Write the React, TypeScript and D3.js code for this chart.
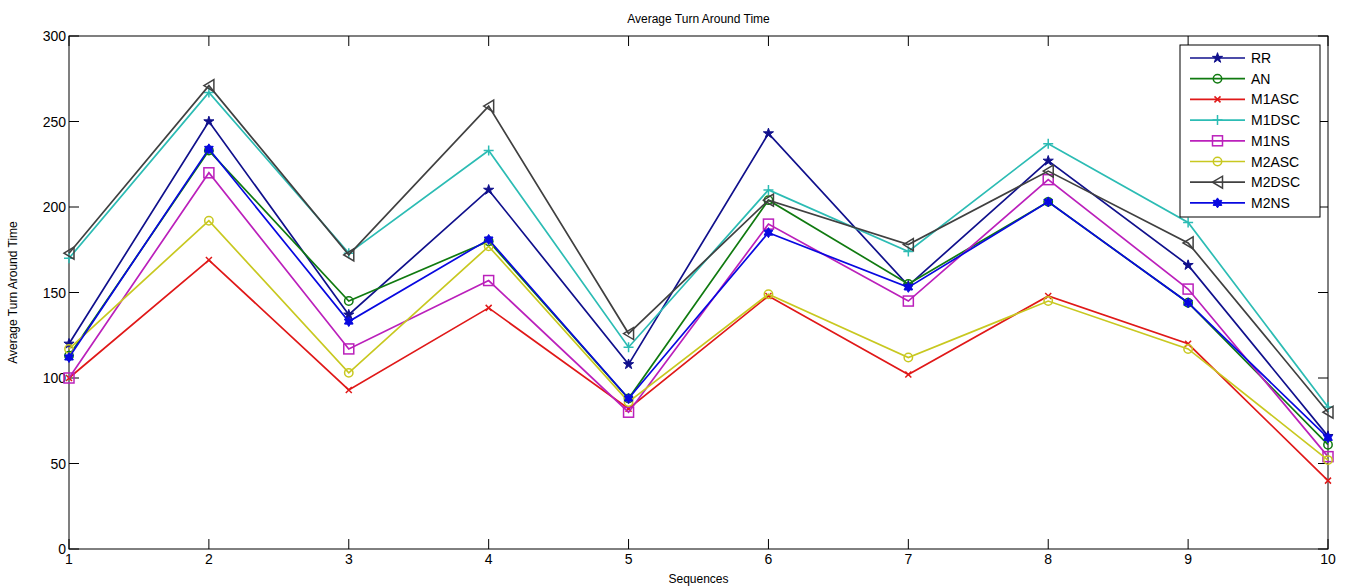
import React from "react";
import * as d3 from "d3";

const sequences = [1, 2, 3, 4, 5, 6, 7, 8, 9, 10];
const yTicks = [0, 50, 100, 150, 200, 250, 300];

const seriesNames = ["RR", "AN", "M1ASC", "M1DSC", "M1NS", "M2ASC", "M2DSC", "M2NS"];
const RR = [120, 250, 137, 210, 108, 243, 154, 227, 166, 66];
const AN = [113, 233, 145, 180, 88, 204, 155, 203, 144, 61];
const M1ASC = [100, 169, 93, 141, 82, 148, 102, 148, 120, 40];
const M1DSC = [170, 267, 173, 233, 118, 210, 174, 237, 191, 83];
const M1NS = [100, 220, 117, 157, 80, 190, 145, 216, 152, 54];
const M2ASC = [117, 192, 103, 177, 86, 149, 112, 145, 117, 52];
const M2DSC = [173, 271, 172, 259, 126, 204, 178, 221, 179, 80];
const M2NS = [112, 234, 133, 181, 88, 185, 153, 203, 144, 65];
const seriesValues = [RR, AN, M1ASC, M1DSC, M1NS, M2ASC, M2DSC, M2NS];

const colors = ["#10108c", "#107a10", "#e01818", "#2cbcb4", "#bb20bb", "#c8c820", "#404040", "#0808e0"];
const markers = ["star", "circle", "x", "plus", "square", "circle", "triangle", "hexstar"];

const W = 1346, H = 587;
const left = 69, right = 1328, top = 36, bottom = 549;
const font = "'Liberation Sans', Arial, sans-serif";

function Marker({ type, x, y, color }: { type: string; x: number; y: number; color: string }) {
  const s = 5;
  switch (type) {
    case "star":
      return <path d={d3.symbol().type(d3.symbolStar).size(32)() as string} transform={`translate(${x},${y})`} fill={color} stroke={color} strokeWidth={1} />;
    case "hexstar": {
      const pts: string[] = [];
      for (let i = 0; i < 12; i++) {
        const r = i % 2 === 0 ? 5 : 3;
        const a = (Math.PI / 6) * i - Math.PI / 2;
        pts.push(`${x + r * Math.cos(a)},${y + r * Math.sin(a)}`);
      }
      return <polygon points={pts.join(" ")} fill={color} stroke={color} strokeWidth={1} />;
    }
    case "circle":
      return <circle cx={x} cy={y} r={4.2} fill="none" stroke={color} strokeWidth={1.5} />;
    case "x":
      return <path d={`M${x - 3},${y - 3}L${x + 3},${y + 3}M${x - 3},${y + 3}L${x + 3},${y - 3}`} stroke={color} strokeWidth={1.5} />;
    case "plus":
      return <path d={`M${x - s},${y}L${x + s},${y}M${x},${y - s}L${x},${y + s}`} stroke={color} strokeWidth={1.5} />;
    case "square":
      return <rect x={x - 5} y={y - 5} width={10} height={10} fill="none" stroke={color} strokeWidth={1.5} />;
    case "triangle":
      return <path d={`M${x - 5},${y}L${x + 5},${y - 6}L${x + 5},${y + 6}Z`} fill="none" stroke={color} strokeWidth={1.5} />;
    default:
      return null;
  }
}

export default function App() {
  const x = d3.scaleLinear().domain([1, 10]).range([left, right]);
  const y = d3.scaleLinear().domain([0, 300]).range([bottom, top]);
  const line = d3.line<number>().x((_, i) => x(sequences[i])).y((d) => y(d));
  const tickLen = 10;

  const legX = 1180, legY = 45, legW = 140, legH = 172, legStep = 20.7;

  return (
    <svg width={W} height={H} style={{ position: "absolute", left: 0, top: 0, background: "#fff" }}>
      <rect x={0} y={0} width={W} height={H} fill="#fff" />
      <rect x={left} y={top} width={right - left} height={bottom - top} fill="none" stroke="#000" strokeWidth={1} />
      {sequences.map((s) => (
        <g key={"xt" + s}>
          <line x1={x(s)} x2={x(s)} y1={bottom} y2={bottom - tickLen} stroke="#000" />
          <line x1={x(s)} x2={x(s)} y1={top} y2={top + tickLen} stroke="#000" />
          <text x={x(s)} y={bottom + 15} textAnchor="middle" fontFamily={font} fontSize={14} fill="#000">{s}</text>
        </g>
      ))}
      {yTicks.map((t) => (
        <g key={"yt" + t}>
          <line x1={left} x2={left + tickLen} y1={y(t)} y2={y(t)} stroke="#000" />
          <line x1={right} x2={right - tickLen} y1={y(t)} y2={y(t)} stroke="#000" />
          <text x={left - 3} y={y(t) + 5} textAnchor="end" fontFamily={font} fontSize={14} fill="#000">{t}</text>
        </g>
      ))}
      {seriesValues.map((vals, k) => (
        <g key={"s" + k}>
          <path d={line(vals) as string} fill="none" stroke={colors[k]} strokeWidth={1.7} />
          {vals.map((v, i) => (
            <Marker key={i} type={markers[k]} x={x(sequences[i])} y={y(v)} color={colors[k]} />
          ))}
        </g>
      ))}
      <text x={(left + right) / 2} y={23} textAnchor="middle" fontFamily={font} fontSize={12} fill="#000">Average Turn Around Time</text>
      <text x={(left + right) / 2} y={583} textAnchor="middle" fontFamily={font} fontSize={12} fill="#000">Sequences</text>
      <text transform={`translate(17,${(top + bottom) / 2}) rotate(-90)`} textAnchor="middle" fontFamily={font} fontSize={12} fill="#000">Average Turn Around Time</text>
      <rect x={legX} y={legY} width={legW} height={legH} fill="#fff" stroke="#000" strokeWidth={1} />
      {seriesNames.map((n, k) => {
        const ly = legY + 13 + k * legStep;
        return (
          <g key={"l" + k}>
            <line x1={legX + 10} x2={legX + 65} y1={ly} y2={ly} stroke={colors[k]} strokeWidth={1.7} />
            <Marker type={markers[k]} x={legX + 37.5} y={ly} color={colors[k]} />
            <text x={legX + 71} y={ly + 5} fontFamily={font} fontSize={14} fill="#000">{n}</text>
          </g>
        );
      })}
    </svg>
  );
}
